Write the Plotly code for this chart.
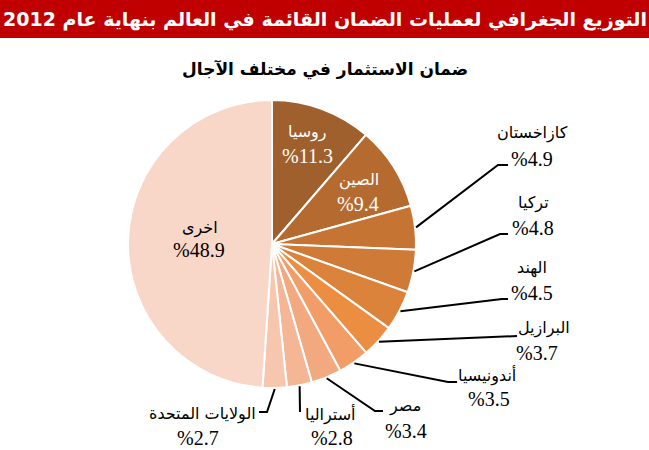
import math
import plotly.graph_objects as go

W, H = 649, 450

# ---- data ----
countries = ["روسيا", "الصين", "كازاخستان", "تركيا", "الهند", "البرازيل",
             "أندونيسيا", "مصر", "أستراليا", "الولايات المتحدة", "اخرى"]
shares = [11.3, 9.4, 4.9, 4.8, 4.5, 3.7, 3.5, 3.4, 2.8, 2.7, 48.9]
value_labels = ["%11.3", "%9.4", "%4.9", "%4.8", "%4.5", "%3.7",
                "%3.5", "%3.4", "%2.8", "%2.7", "%48.9"]
colors = ["#A0602D", "#B56A30", "#C57433", "#CF7A36", "#DB833A", "#EC8E41",
          "#F29D68", "#F3A97F", "#F5B696", "#F7C6AE", "#F9D7C8"]

title = "التوزيع الجغرافي لعمليات الضمان القائمة في العالم بنهاية عام 2012"
subtitle = "ضمان الاستثمار في مختلف الآجال"

# ---- layout constants (pixels) ----
CX, CY, R = 272, 244, 144
# name centre, value centre
label_pos = {
    "روسيا": ((307, 132), (307, 156)),
    "الصين": ((359, 180), (358, 204)),
    "اخرى": ((200, 228), (199, 250)),
    "كازاخستان": ((532, 133), (532, 159)),
    "تركيا": ((533, 203), (533, 228)),
    "الهند": ((532, 268), (532, 293)),
    "البرازيل": ((544, 328), (537, 353)),
    "أندونيسيا": ((487, 375), (489, 399)),
    "مصر": ((405, 406), (406, 431)),
    "أستراليا": ((330, 414), (332, 438)),
    "الولايات المتحدة": ((202, 414), (198, 438)),
}
elbows = {
    "كازاخستان": [(498, 165), (508, 165)],
    "تركيا": [(500, 234), (508, 234)],
    "الهند": [(502, 299), (508, 299)],
    "البرازيل": [(517, 336)],
    "أندونيسيا": [(448, 382), (457, 382)],
    "مصر": [(375, 411), (383, 411)],
    "أستراليا": [(300, 412)],
    "الولايات المتحدة": [(267, 412), (259, 412)],
}


def px(x, y):
    return x / W, 1 - y / H


fig = go.Figure()
fig.add_trace(go.Pie(
    labels=countries, values=shares, sort=False, direction="clockwise",
    rotation=0, textinfo="none", hoverinfo="label+percent",
    marker=dict(colors=colors, line=dict(color="white", width=2)),
    domain=dict(x=[(CX - R) / W, (CX + R) / W], y=[1 - (CY + R) / H, 1 - (CY - R) / H]),
    showlegend=False,
))

shapes = [dict(type="rect", xref="paper", yref="paper", x0=0, x1=1,
               y0=1 - 38 / H, y1=1, fillcolor="#C00000", line=dict(width=0), layer="below")]
annotations = [
    dict(text="<b>" + title + "</b>", x=0.5, y=1 - 19 / H, xref="paper", yref="paper",
         showarrow=False, font=dict(family="DejaVu Sans", size=19, color="white"),
         xanchor="center", yanchor="middle"),
    dict(text="<b>" + subtitle + "</b>", x=px(325, 69)[0], y=px(325, 69)[1], xref="paper",
         yref="paper", showarrow=False, font=dict(family="DejaVu Sans", size=17, color="black"),
         xanchor="center", yanchor="middle"),
]


def add_text(txt, pos, size, family, color):
    x, y = px(*pos)
    annotations.append(dict(text=txt, x=x, y=y, xref="paper", yref="paper", showarrow=False,
                            xanchor="center", yanchor="middle",
                            font=dict(family=family, size=size, color=color)))


total = sum(shares)
cum = 0.0
for name, v, vl in zip(countries, shares, value_labels):
    mid = (cum + v / 2) / total * 2 * math.pi
    cum += v
    color = "white" if name in ("روسيا", "الصين") else "black"
    npos, vpos = label_pos[name]
    add_text(name, npos, 16, "DejaVu Sans", color)
    add_text(vl, vpos, 20, "Liberation Serif", color)
    if name in elbows:
        ex = CX + (R + 1) * math.sin(mid)
        ey = CY - (R + 1) * math.cos(mid)
        allpts = [(ex, ey)] + elbows[name]
        path = "M " + " L ".join(f"{a / W},{1 - b / H}" for a, b in allpts)
        shapes.append(dict(type="path", xref="paper", yref="paper", path=path,
                           line=dict(color="black", width=2)))

fig.update_layout(width=W, height=H, margin=dict(l=0, r=0, t=0, b=0),
                  paper_bgcolor="white", plot_bgcolor="white",
                  shapes=shapes, annotations=annotations)
fig.write_html("out.html")
